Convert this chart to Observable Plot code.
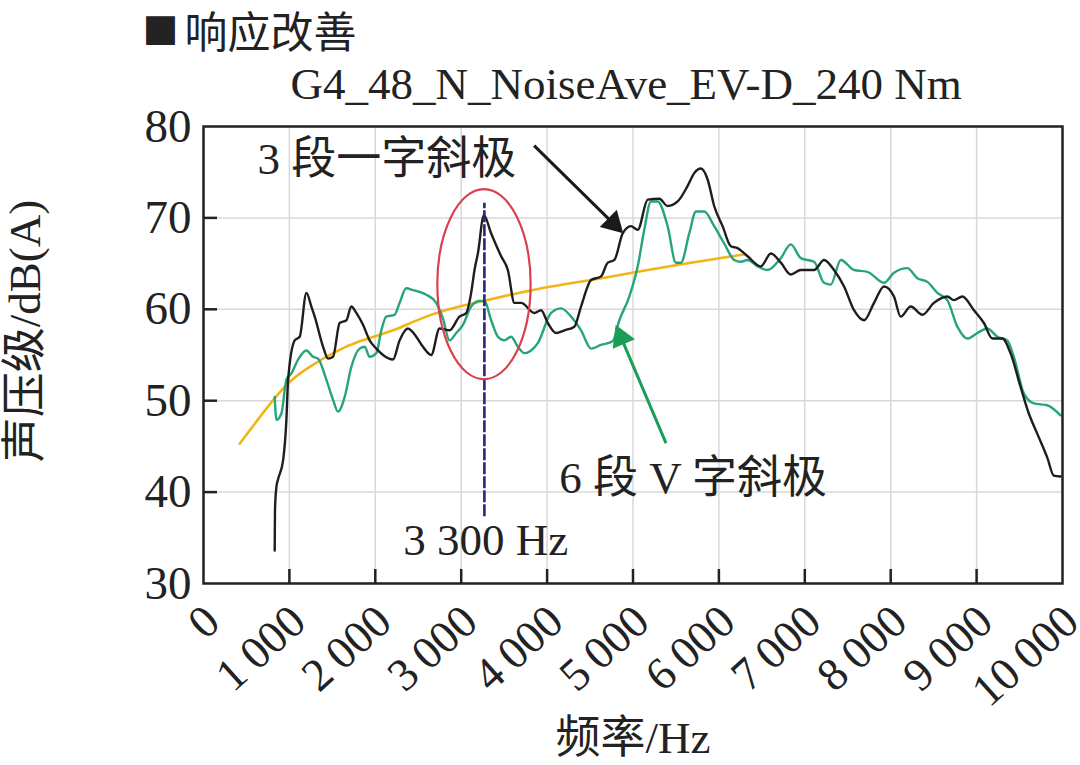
<!DOCTYPE html>
<html>
<head>
<meta charset="utf-8">
<script src="https://cdn.jsdelivr.net/npm/d3@7"></script>
<script src="https://cdn.jsdelivr.net/npm/@observablehq/plot@0.6"></script>
<style>
  html, body { margin: 0; padding: 0; background: #fff; }
  #chart svg { display: block; }
</style>
</head>
<body>
<div id="chart"></div>
<script>
// ---- data ----
const titleMarker = "■";
const titleText = "响应改善";
const subtitleText = "G4_48_N_NoiseAve_EV-D_240 Nm";
const xLabel = "频率/Hz";
const yLabel = "声压级/dB(A)";

const xTicks = [0, 1000, 2000, 3000, 4000, 5000, 6000, 7000, 8000, 9000, 10000];
const xTickLabels = ["0", "1\u2009000", "2\u2009000", "3\u2009000", "4\u2009000", "5\u2009000", "6\u2009000", "7\u2009000", "8\u2009000", "9\u2009000", "10\u2009000"];
const yTicks = [30, 40, 50, 60, 70, 80];

// 3 段一字斜极 (black)
const blackX = [829, 832, 849, 868, 927, 965, 985, 1062, 1120, 1198, 1256, 1295, 1392, 1450, 1508, 1585, 1663, 1721, 1779, 1857, 1934, 2012, 2090, 2206, 2283, 2380, 2477, 2555, 2651, 2748, 2864, 2980, 3058, 3116, 3155, 3194, 3264, 3349, 3465, 3543, 3620, 3698, 3852, 3930, 4008, 4105, 4201, 4317, 4395, 4512, 4628, 4706, 4783, 4880, 4977, 5055, 5171, 5306, 5403, 5520, 5636, 5713, 5791, 5869, 5945, 6043, 6140, 6217, 6334, 6488, 6605, 6721, 6837, 6953, 7108, 7224, 7340, 7457, 7573, 7690, 7806, 7922, 8038, 8116, 8233, 8369, 8503, 8659, 8736, 8834, 8969, 9085, 9183, 9299, 9395, 9512, 9608, 9706, 9822, 9899, 9977];
const blackY = [33.6, 38.0, 40.6, 41.4, 43.5, 47.9, 52.3, 56.6, 57.0, 61.8, 60.3, 59.2, 55.9, 54.6, 54.8, 58.5, 58.8, 60.3, 59.6, 58.3, 56.6, 55.7, 55.0, 54.5, 56.6, 57.9, 57.0, 55.9, 55.0, 57.9, 57.7, 59.2, 59.6, 61.8, 64.3, 66.1, 70.3, 68.3, 65.8, 64.3, 60.7, 60.7, 59.6, 59.9, 58.5, 57.4, 57.7, 58.1, 60.3, 63.2, 63.6, 65.1, 65.4, 68.3, 69.1, 68.7, 72.0, 72.1, 71.3, 71.8, 73.5, 74.9, 75.4, 74.2, 71.3, 69.1, 66.9, 66.7, 65.8, 64.7, 66.1, 65.1, 63.8, 64.3, 64.3, 65.4, 64.3, 62.5, 59.9, 58.8, 60.7, 62.5, 61.4, 59.2, 60.3, 59.4, 60.7, 61.4, 61.0, 61.4, 59.9, 58.5, 56.8, 56.8, 55.2, 51.5, 48.6, 46.4, 43.8, 41.8, 41.7];

// 6 段 V 字斜极 (green)
const greenX = [829, 849, 907, 965, 1023, 1101, 1198, 1275, 1334, 1430, 1508, 1566, 1643, 1721, 1817, 1876, 1934, 2012, 2070, 2128, 2224, 2283, 2360, 2438, 2515, 2593, 2709, 2787, 2864, 2942, 3020, 3116, 3213, 3271, 3349, 3427, 3503, 3581, 3659, 3736, 3814, 3892, 4047, 4163, 4279, 4395, 4512, 4628, 4764, 4841, 4957, 5055, 5131, 5209, 5287, 5403, 5500, 5558, 5655, 5733, 5829, 5945, 6062, 6178, 6256, 6334, 6450, 6566, 6721, 6837, 6953, 7108, 7224, 7302, 7419, 7573, 7729, 7922, 8038, 8194, 8310, 8427, 8543, 8659, 8776, 8892, 9008, 9125, 9241, 9357, 9434, 9550, 9666, 9822, 9977];
const greenY = [50.4, 47.9, 48.6, 52.3, 53.0, 54.5, 55.5, 54.8, 54.6, 52.3, 50.1, 48.8, 50.4, 53.7, 55.7, 55.9, 54.8, 55.2, 57.7, 59.2, 59.4, 60.7, 62.3, 62.1, 61.9, 61.6, 60.7, 59.0, 56.6, 57.4, 58.3, 60.3, 60.9, 60.9, 58.8, 57.0, 56.6, 57.0, 55.9, 55.2, 55.5, 56.3, 59.6, 60.1, 59.2, 57.7, 55.7, 56.1, 56.5, 58.8, 61.4, 64.7, 68.7, 71.8, 71.8, 69.1, 65.1, 65.1, 68.3, 70.7, 70.7, 69.1, 67.2, 65.4, 65.2, 65.4, 64.7, 64.3, 65.6, 67.1, 65.6, 65.2, 62.9, 62.7, 65.4, 64.3, 64.1, 62.9, 64.0, 64.5, 63.4, 63.0, 61.8, 61.0, 58.1, 56.8, 57.4, 57.9, 57.0, 56.6, 54.8, 50.8, 49.7, 49.5, 48.4];

// trend curve (yellow)
const yellowX = [422, 655, 965, 1236, 1508, 1817, 2206, 2593, 2980, 3252, 3880, 4512, 5055, 5674, 6290];
const yellowY = [45.3, 48.2, 51.7, 53.7, 55.2, 56.5, 57.7, 59.2, 60.3, 60.9, 62.2, 63.2, 64.1, 65.1, 66.0];

// annotations
const peakFreq = [3270];
const peakRange = [37.3, 71.6];
const ellipseCenter = [3271, 62.7];
const ellipseRadii = [543, 10.4];
const labelTexts = ["3 段一字斜极", "6 段 V 字斜极", "3 300 Hz"];
const labelX = [628, 4140, 2326];
const labelY = [76.4, 41.5, 34.7];
const arrowTail = [[3849, 77.9], [5384, 45.35]];
const arrowHead = [[4770, 69.4], [4862, 56.9]];
const arrowRotate = [134.6, -23.0];
const arrowColors = ["#1a1a1a", "#1a9e55"];

// ---- build ----
const black = blackX.map((x, i) => ({x, y: blackY[i]}));
const green = greenX.map((x, i) => ({x, y: greenY[i]}));
const yellow = yellowX.map((x, i) => ({x, y: yellowY[i]}));
const labels = labelTexts.map((t, i) => ({t, x: labelX[i], y: labelY[i]}));
const arrows = arrowTail.map((t, i) => ({x1: t[0], y1: t[1], x2: arrowHead[i][0], y2: arrowHead[i][1], r: arrowRotate[i], c: arrowColors[i]}));

const W = 1080, H = 765, mL = 203, mR = 18, mT = 126, mB = 182;
const innerW = W - mL - mR, innerH = H - mT - mB;
const FONT = "'Liberation Serif', 'Noto Sans CJK SC', serif";
const CJK = "'Noto Sans CJK SC', sans-serif";

function ellipseMark(index, scales) {
  const cx = scales.x(ellipseCenter[0]);
  const cy = scales.y(ellipseCenter[1]);
  const rx = Math.abs(scales.x(ellipseCenter[0] + ellipseRadii[0]) - cx);
  const ry = Math.abs(scales.y(ellipseCenter[1] + ellipseRadii[1]) - cy);
  const el = document.createElementNS("http://www.w3.org/2000/svg", "ellipse");
  el.setAttribute("cx", cx); el.setAttribute("cy", cy);
  el.setAttribute("rx", rx); el.setAttribute("ry", ry);
  el.setAttribute("fill", "none");
  el.setAttribute("stroke", "#d8404e");
  el.setAttribute("stroke-width", 2.2);
  return el;
}

const chart = Plot.plot({
  width: W, height: H,
  marginLeft: mL, marginRight: mR, marginTop: mT, marginBottom: mB,
  style: {fontFamily: FONT, fontSize: "46px", color: "#222", background: "#fff"},
  x: {domain: [0, 10000], label: null},
  y: {domain: [30, 80], label: null},
  marks: [
    Plot.gridX(xTicks, {stroke: "#d8d8d8", strokeOpacity: 1, strokeWidth: 1.5}),
    Plot.gridY(yTicks, {stroke: "#d8d8d8", strokeOpacity: 1, strokeWidth: 1.5}),
    Plot.tickX(xTicks.slice(1, -1), {x: d => d, insetTop: innerH - 14, stroke: "#222", strokeWidth: 2.5}),
    Plot.tickY(yTicks.slice(1, -1), {y: d => d, insetRight: innerW - 14, stroke: "#222", strokeWidth: 2.5}),
    Plot.axisX(xTicks, {tickSize: 0, tickPadding: 31, dx: 9, tickRotate: -42, fontSize: 46, tickFormat: d => xTickLabels[xTicks.indexOf(d)], fill: "#222"}),
    Plot.axisY(yTicks, {tickSize: 0, tickPadding: 12, fontSize: 47, fill: "#222"}),
    Plot.line(yellow, {x: "x", y: "y", stroke: "#f2b418", strokeWidth: 2.6, curve: "natural"}),
    Plot.line(green, {x: "x", y: "y", stroke: "#26a57a", strokeWidth: 2.4, curve: "monotone-x"}),
    Plot.line(black, {x: "x", y: "y", stroke: "#1e1e1e", strokeWidth: 2.4, curve: "monotone-x"}),
    Plot.ruleX(peakFreq, {x: d => d, y1: peakRange[0], y2: peakRange[1], stroke: "#26267a", strokeWidth: 2.6, strokeDasharray: "12,2"}),
    ellipseMark,
    Plot.link(arrows, {x1: "x1", y1: "y1", x2: "x2", y2: "y2", stroke: "c", strokeWidth: 3}),
    Plot.dot(arrows, {x: "x2", y: "y2", symbol: "triangle", r: 9, fill: "c", stroke: null, rotate: "r"}),
    Plot.text(labels, {x: "x", y: "y", text: "t", textAnchor: "start", lineAnchor: "middle", fontSize: 45, fill: "#222"}),
    Plot.text([titleMarker], {frameAnchor: "top-left", dx: -61, dy: -93, textAnchor: "start", lineAnchor: "middle", fontFamily: CJK, fontSize: 36, fill: "#222", text: d => d}),
    Plot.text([titleText], {frameAnchor: "top-left", dx: -19, dy: -92, textAnchor: "start", lineAnchor: "middle", fontFamily: CJK, fontSize: 43, fill: "#222", text: d => d}),
    Plot.text([subtitleText], {frameAnchor: "top-left", dx: 87, dy: -42, textAnchor: "start", lineAnchor: "middle", fontSize: 45, fill: "#222", text: d => d}),
    Plot.text([yLabel], {frameAnchor: "left", dx: -178, dy: -24, rotate: -90, textAnchor: "middle", lineAnchor: "middle", fontSize: 45, fill: "#222", text: d => d}),
    Plot.text([xLabel], {frameAnchor: "bottom", dy: 155, textAnchor: "middle", lineAnchor: "middle", fontSize: 45, fill: "#222", text: d => d}),
    Plot.frame({stroke: "#222", strokeWidth: 2.5})
  ]
});
document.getElementById("chart").appendChild(chart);
</script>
</body>
</html>
